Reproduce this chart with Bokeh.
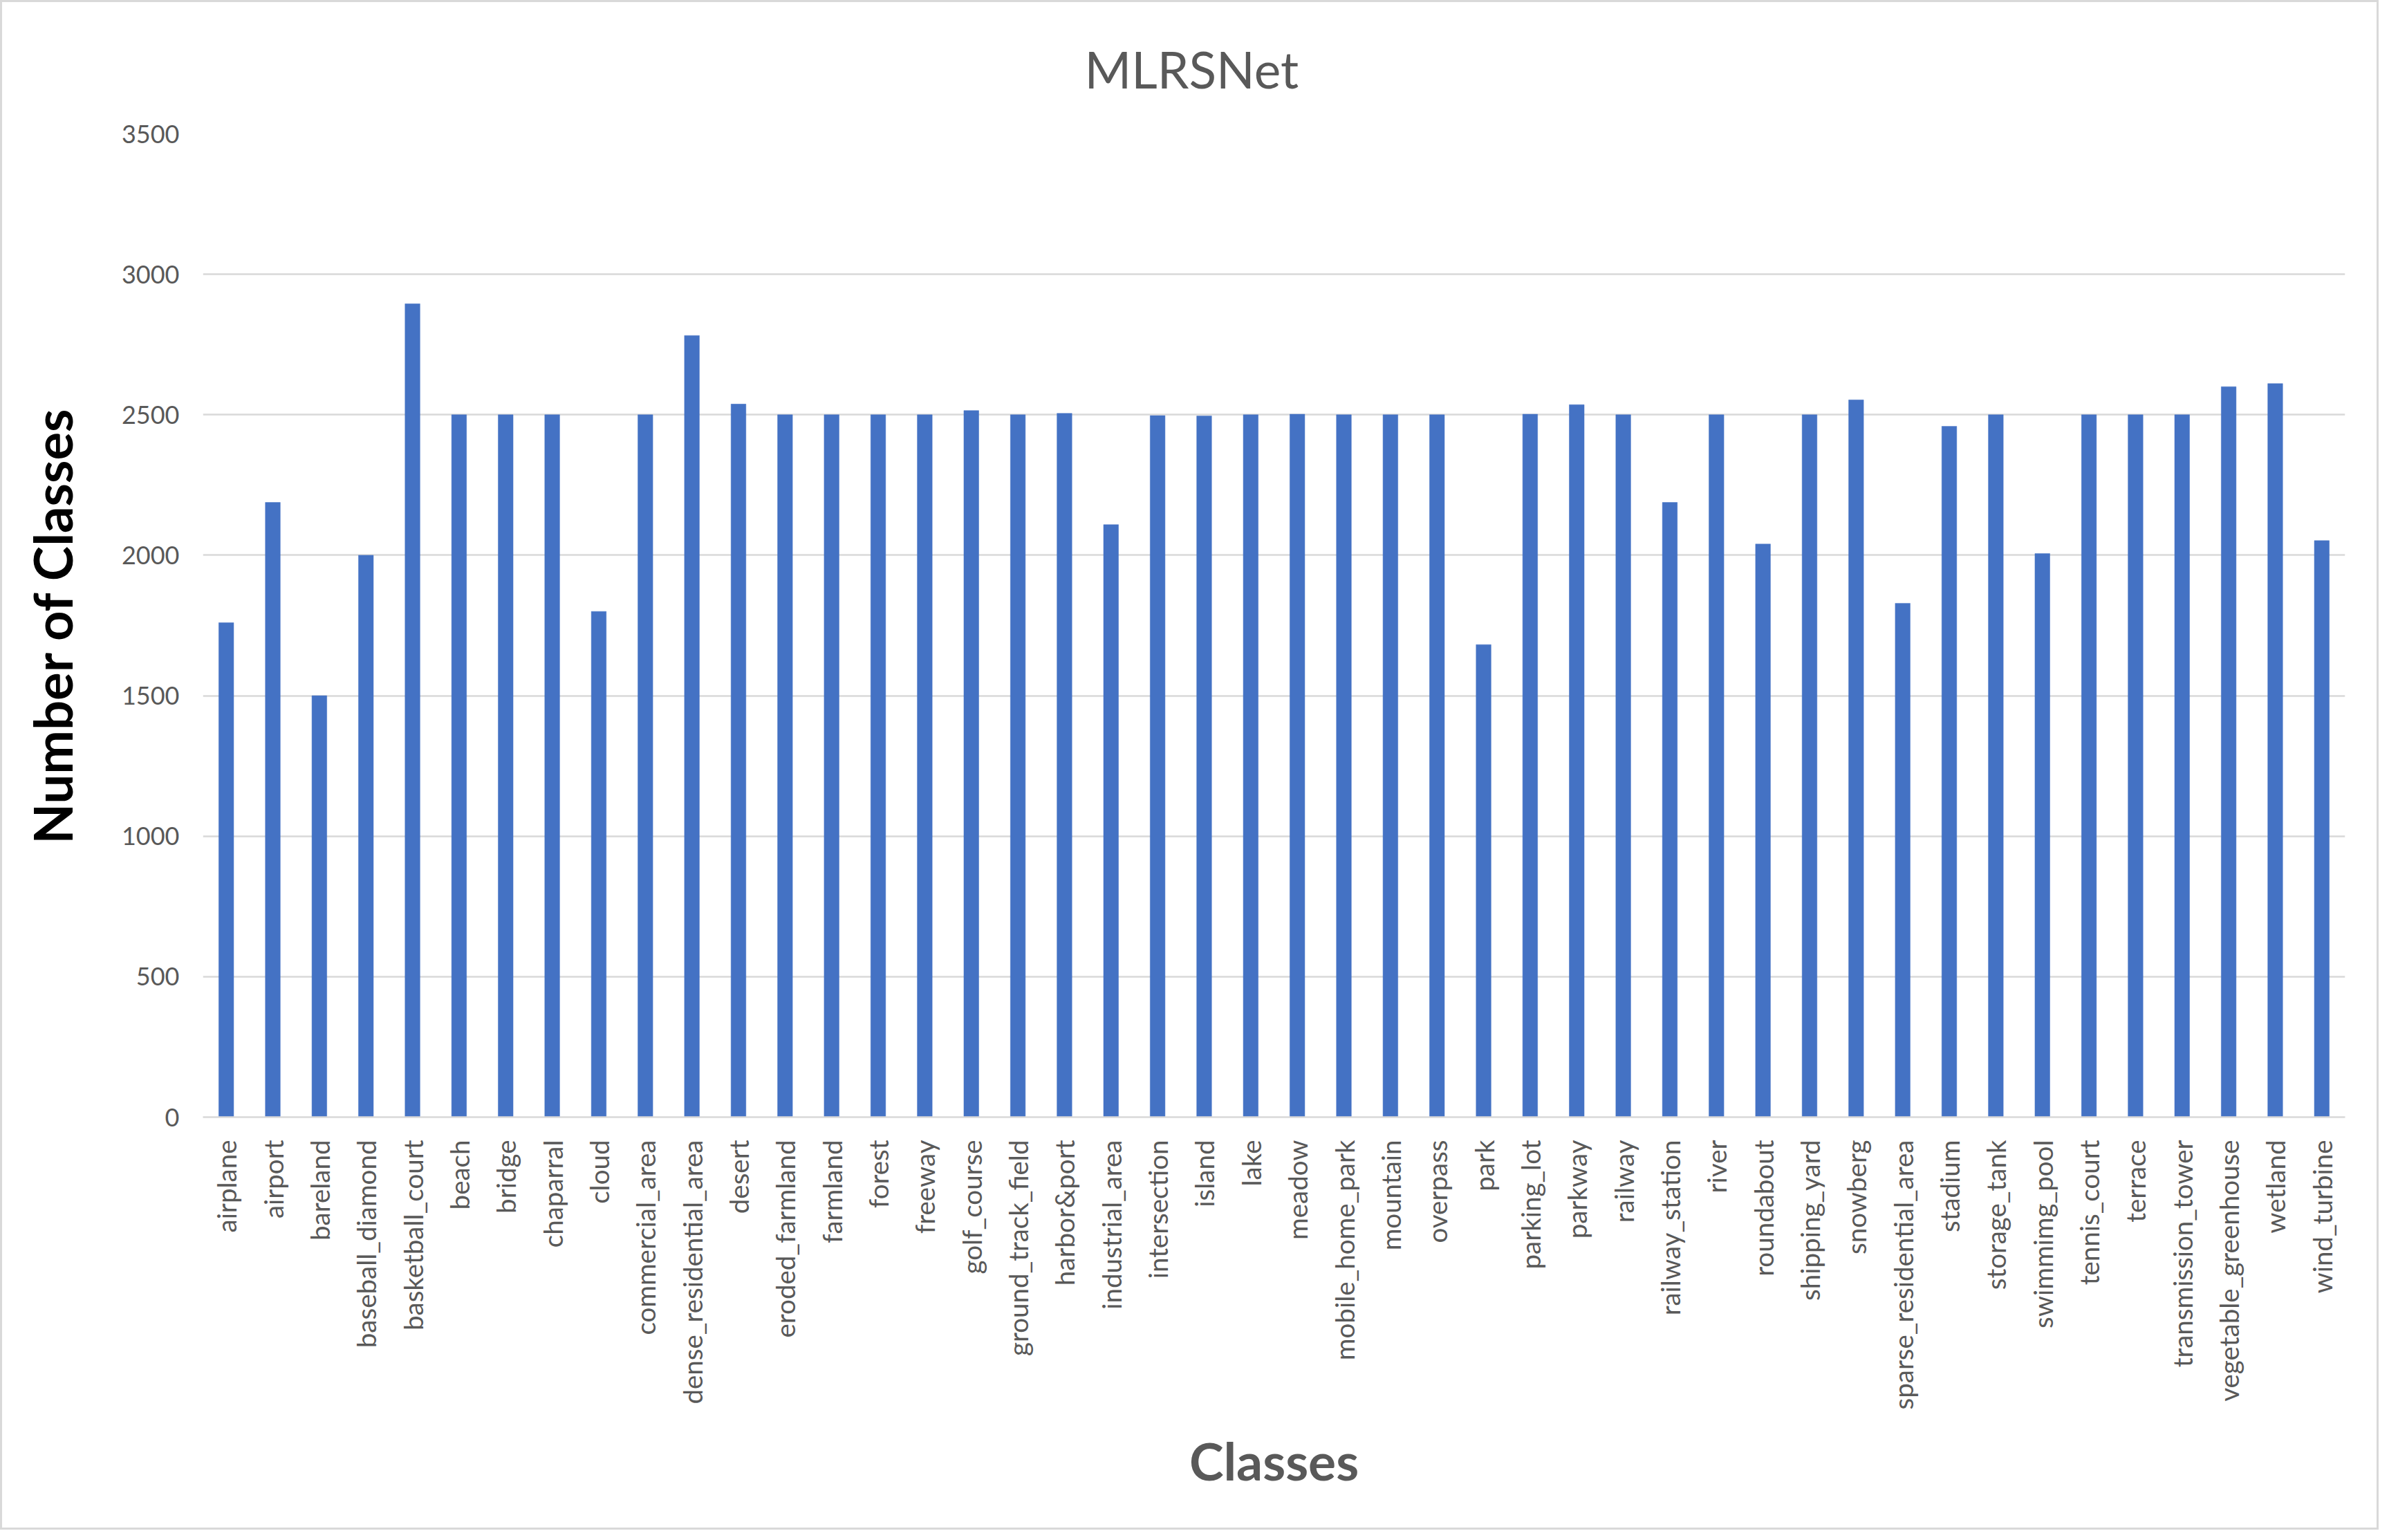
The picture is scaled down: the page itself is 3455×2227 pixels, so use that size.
import math
from bokeh.plotting import figure
from bokeh.models import FactorRange, Range1d, ColumnDataSource, SingleIntervalTicker
from bokeh.embed import file_html
from bokeh.resources import INLINE

classes = ["airplane", "airport", "bareland", "baseball_diamond", "basketball_court", "beach",
           "bridge", "chaparral", "cloud", "commercial_area", "dense_residential_area", "desert",
           "eroded_farmland", "farmland", "forest", "freeway", "golf_course", "ground_track_field",
           "harbor&port", "industrial_area", "intersection", "island", "lake", "meadow",
           "mobile_home_park", "mountain", "overpass", "park", "parking_lot", "parkway", "railway",
           "railway_station", "river", "roundabout", "shipping_yard", "snowberg",
           "sparse_residential_area", "stadium", "storage_tank", "swimmimg_pool", "tennis_court",
           "terrace", "transmission_tower", "vegetable_greenhouse", "wetland", "wind_turbine"]

counts = [1760, 2188, 1500, 2000, 2895, 2500,
          2500, 2500, 1800, 2500, 2782, 2538,
          2500, 2500, 2500, 2500, 2515, 2500,
          2505, 2109, 2497, 2496, 2500, 2502,
          2500, 2500, 2500, 1682, 2502, 2536, 2500,
          2188, 2500, 2040, 2500, 2553,
          1829, 2459, 2500, 2006, 2500,
          2500, 2500, 2600, 2611, 2052]

title_text = "MLRSNet"
x_title = "Classes"
y_title = "Number of Classes"

BAR = "#4472C4"
GRID = "#D9D9D9"
TXT = "#595959"

src = ColumnDataSource(dict(cls=classes, n=counts))

p = figure(x_range=FactorRange(*classes, range_padding=0), y_range=Range1d(0, 3500),
           width=3440, height=2212, output_backend="svg", toolbar_location=None,
           min_border_left=290, min_border_right=52, min_border_top=188, min_border_bottom=600)

p.vbar(x="cls", top="n", width=0.32, source=src, fill_color=BAR, line_color=BAR, line_width=0.5)

p.title.text = title_text
p.title.text_font = "Lato"
p.title.text_font_size = "73px"
p.title.text_font_style = "normal"
p.title.text_color = TXT
p.title.align = "left"
p.title.offset = 1275
p.title.standoff = 100

p.outline_line_color = None
p.background_fill_color = "white"
p.border_fill_color = "white"

p.xgrid.grid_line_color = None
p.ygrid.grid_line_color = GRID
p.ygrid.grid_line_width = 2.5

p.yaxis.ticker = SingleIntervalTicker(interval=500)
p.yaxis.axis_line_color = None
p.yaxis.major_tick_line_color = None
p.yaxis.minor_tick_line_color = None
p.yaxis.major_label_text_font = "Lato"
p.yaxis.major_label_text_font_size = "36px"
p.yaxis.major_label_text_color = TXT
p.yaxis.major_label_standoff = 28
p.yaxis.axis_label = y_title
p.yaxis.axis_label_text_font = "Lato"
p.yaxis.axis_label_text_font_size = "76px"
p.yaxis.axis_label_text_font_style = "bold"
p.yaxis.axis_label_text_color = "#000000"
p.yaxis.axis_label_standoff = 52

p.xaxis.axis_line_color = GRID
p.xaxis.axis_line_width = 2.5
p.xaxis.major_tick_line_color = None
p.xaxis.minor_tick_line_color = None
p.xaxis.major_label_orientation = math.pi / 2
p.xaxis.major_label_text_font = "Lato"
p.xaxis.major_label_text_font_size = "38.5px"
p.xaxis.major_label_text_color = TXT
p.xaxis.major_label_standoff = 27
p.xaxis.axis_label = x_title
p.xaxis.axis_label_text_font = "Lato"
p.xaxis.axis_label_text_font_size = "75px"
p.xaxis.axis_label_text_font_style = "bold"
p.xaxis.axis_label_text_color = TXT
p.xaxis.axis_label_standoff = 26

p.styles = {"border": "3px solid #D9D9D9", "box-sizing": "border-box"}

open("out.html", "w").write(file_html(p, INLINE))
